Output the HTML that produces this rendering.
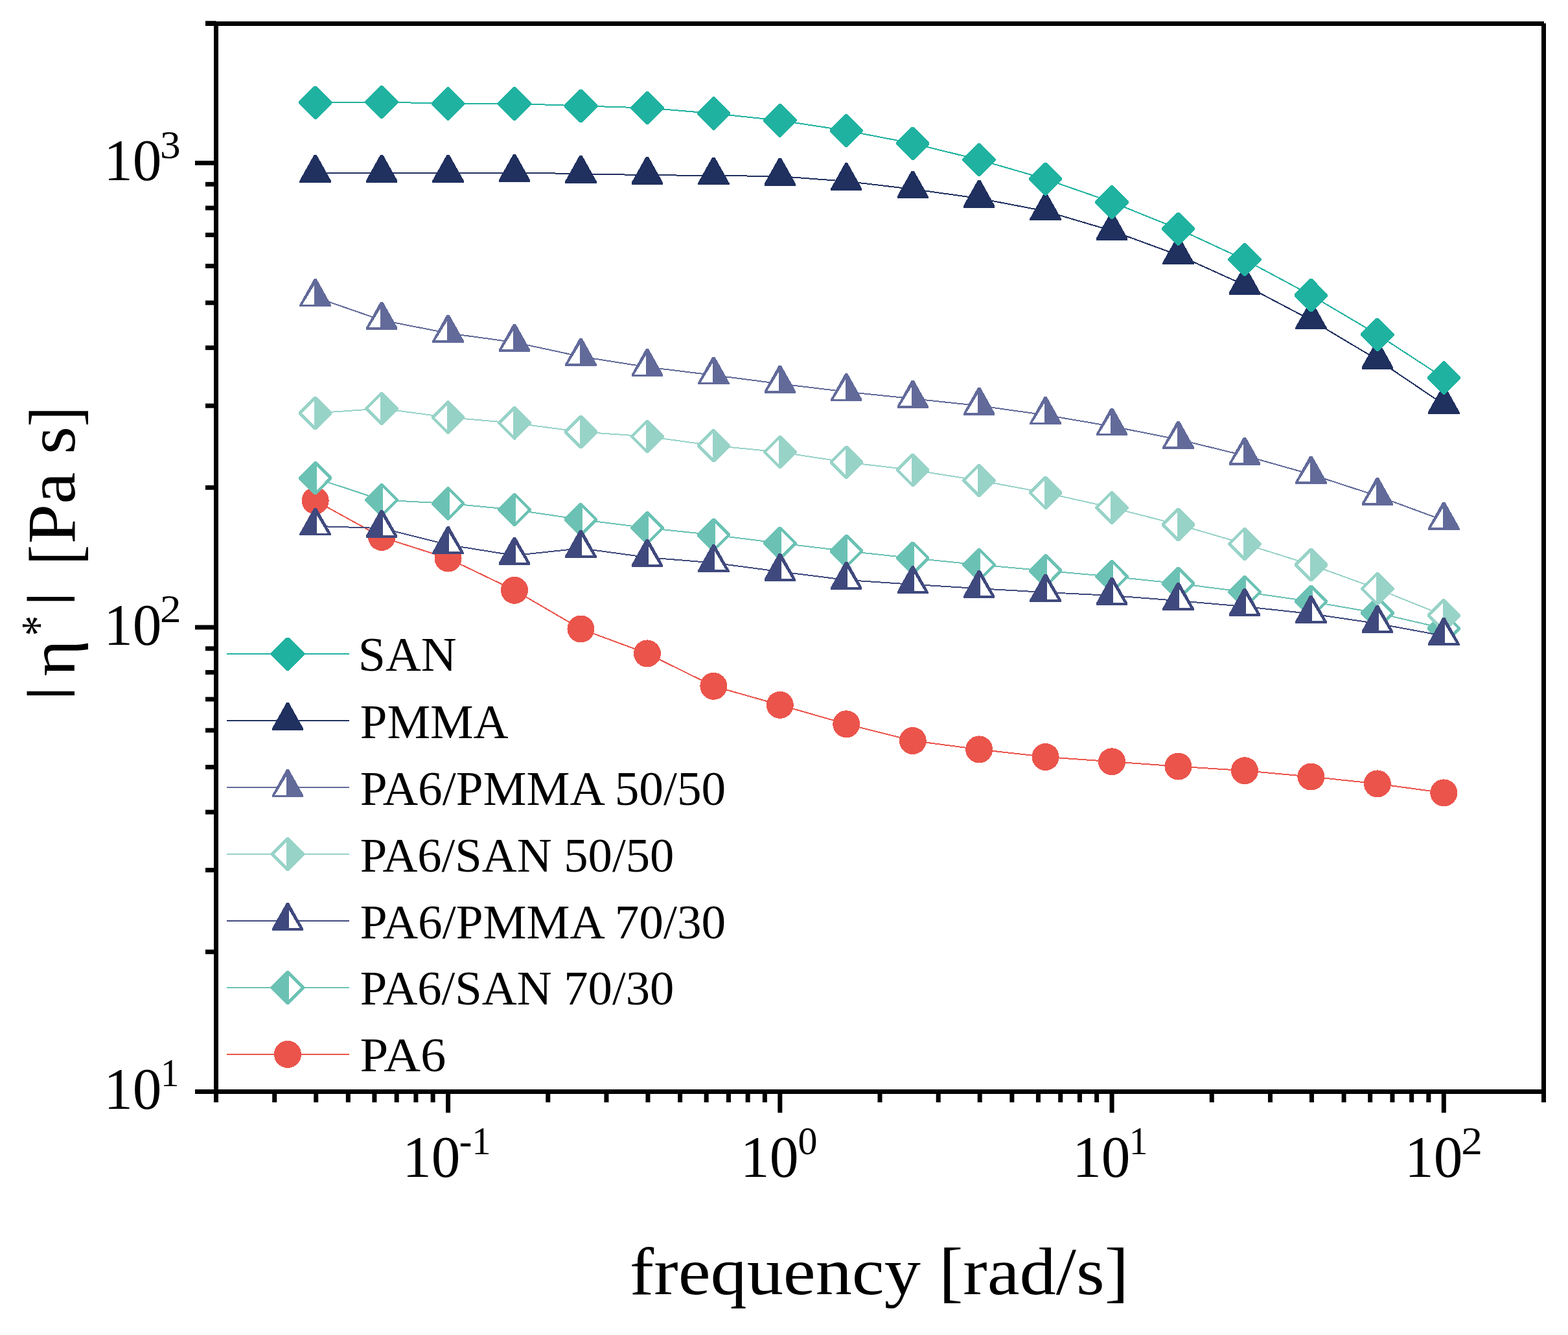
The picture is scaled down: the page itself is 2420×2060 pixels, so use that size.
<!DOCTYPE html>
<html lang="en"><head><meta charset="utf-8"><title>Complex viscosity vs. frequency</title>
<style>html,body{margin:0;padding:0;background:#ffffff}body{width:2420px;height:2060px}svg{display:block}text{font-family:'Liberation Serif', 'DejaVu Serif', serif;fill:#000}</style>
</head><body>
<svg width="2420" height="2060" viewBox="0 0 2420 2060">
<rect x="0" y="0" width="2420" height="2060" fill="#ffffff"/>
<g id="curves" shape-rendering="crispEdges">
<g>
<polyline fill="none" stroke="#EB544B" stroke-width="2" points="486.65,772.6 589.1,828.9 691.55,861.6 794,910.8 896.45,970.5 998.9,1008.4 1101.35,1058.8 1203.8,1087.8 1306.25,1117.3 1408.7,1143 1511.15,1156.4 1613.6,1168 1716.05,1175.3 1818.5,1182.6 1920.95,1189.2 2023.4,1198.5 2125.85,1209.4 2228.3,1223.4"/>
<circle cx="486.65" cy="772.6" r="21" fill="#EB544B"/>
<circle cx="589.1" cy="828.9" r="21" fill="#EB544B"/>
<circle cx="691.55" cy="861.6" r="21" fill="#EB544B"/>
<circle cx="794" cy="910.8" r="21" fill="#EB544B"/>
<circle cx="896.45" cy="970.5" r="21" fill="#EB544B"/>
<circle cx="998.9" cy="1008.4" r="21" fill="#EB544B"/>
<circle cx="1101.35" cy="1058.8" r="21" fill="#EB544B"/>
<circle cx="1203.8" cy="1087.8" r="21" fill="#EB544B"/>
<circle cx="1306.25" cy="1117.3" r="21" fill="#EB544B"/>
<circle cx="1408.7" cy="1143" r="21" fill="#EB544B"/>
<circle cx="1511.15" cy="1156.4" r="21" fill="#EB544B"/>
<circle cx="1613.6" cy="1168" r="21" fill="#EB544B"/>
<circle cx="1716.05" cy="1175.3" r="21" fill="#EB544B"/>
<circle cx="1818.5" cy="1182.6" r="21" fill="#EB544B"/>
<circle cx="1920.95" cy="1189.2" r="21" fill="#EB544B"/>
<circle cx="2023.4" cy="1198.5" r="21" fill="#EB544B"/>
<circle cx="2125.85" cy="1209.4" r="21" fill="#EB544B"/>
<circle cx="2228.3" cy="1223.4" r="21" fill="#EB544B"/>
</g>
<g>
<polyline fill="none" stroke="#6BC2B4" stroke-width="2" points="486.65,737.7 589.1,771.6 691.55,776.8 794,786.6 896.45,801.7 998.9,814.7 1101.35,825.4 1203.8,838.2 1306.25,850.3 1408.7,861.3 1511.15,871.5 1613.6,880.7 1716.05,889.7 1818.5,900.4 1920.95,913.5 2023.4,928.2 2125.85,946 2228.3,969.7"/>
<polygon points="488.15,712 512.35,736.2 512.35,739.2 488.15,763.4 485.15,763.4 460.95,739.2 460.95,736.2 485.15,712" fill="#6BC2B4"/><polygon points="488.85,719.1 488.85,756.3 507.25,737.7" fill="#fff"/>
<polygon points="590.6,745.9 614.8,770.1 614.8,773.1 590.6,797.3 587.6,797.3 563.4,773.1 563.4,770.1 587.6,745.9" fill="#6BC2B4"/><polygon points="591.3,753 591.3,790.2 609.7,771.6" fill="#fff"/>
<polygon points="693.05,751.1 717.25,775.3 717.25,778.3 693.05,802.5 690.05,802.5 665.85,778.3 665.85,775.3 690.05,751.1" fill="#6BC2B4"/><polygon points="693.75,758.2 693.75,795.4 712.15,776.8" fill="#fff"/>
<polygon points="795.5,760.9 819.7,785.1 819.7,788.1 795.5,812.3 792.5,812.3 768.3,788.1 768.3,785.1 792.5,760.9" fill="#6BC2B4"/><polygon points="796.2,768 796.2,805.2 814.6,786.6" fill="#fff"/>
<polygon points="897.95,776 922.15,800.2 922.15,803.2 897.95,827.4 894.95,827.4 870.75,803.2 870.75,800.2 894.95,776" fill="#6BC2B4"/><polygon points="898.65,783.1 898.65,820.3 917.05,801.7" fill="#fff"/>
<polygon points="1000.4,789 1024.6,813.2 1024.6,816.2 1000.4,840.4 997.4,840.4 973.2,816.2 973.2,813.2 997.4,789" fill="#6BC2B4"/><polygon points="1001.1,796.1 1001.1,833.3 1019.5,814.7" fill="#fff"/>
<polygon points="1102.85,799.7 1127.05,823.9 1127.05,826.9 1102.85,851.1 1099.85,851.1 1075.65,826.9 1075.65,823.9 1099.85,799.7" fill="#6BC2B4"/><polygon points="1103.55,806.8 1103.55,844 1121.95,825.4" fill="#fff"/>
<polygon points="1205.3,812.5 1229.5,836.7 1229.5,839.7 1205.3,863.9 1202.3,863.9 1178.1,839.7 1178.1,836.7 1202.3,812.5" fill="#6BC2B4"/><polygon points="1206,819.6 1206,856.8 1224.4,838.2" fill="#fff"/>
<polygon points="1307.75,824.6 1331.95,848.8 1331.95,851.8 1307.75,876 1304.75,876 1280.55,851.8 1280.55,848.8 1304.75,824.6" fill="#6BC2B4"/><polygon points="1308.45,831.7 1308.45,868.9 1326.85,850.3" fill="#fff"/>
<polygon points="1410.2,835.6 1434.4,859.8 1434.4,862.8 1410.2,887 1407.2,887 1383,862.8 1383,859.8 1407.2,835.6" fill="#6BC2B4"/><polygon points="1410.9,842.7 1410.9,879.9 1429.3,861.3" fill="#fff"/>
<polygon points="1512.65,845.8 1536.85,870 1536.85,873 1512.65,897.2 1509.65,897.2 1485.45,873 1485.45,870 1509.65,845.8" fill="#6BC2B4"/><polygon points="1513.35,852.9 1513.35,890.1 1531.75,871.5" fill="#fff"/>
<polygon points="1615.1,855 1639.3,879.2 1639.3,882.2 1615.1,906.4 1612.1,906.4 1587.9,882.2 1587.9,879.2 1612.1,855" fill="#6BC2B4"/><polygon points="1615.8,862.1 1615.8,899.3 1634.2,880.7" fill="#fff"/>
<polygon points="1717.55,864 1741.75,888.2 1741.75,891.2 1717.55,915.4 1714.55,915.4 1690.35,891.2 1690.35,888.2 1714.55,864" fill="#6BC2B4"/><polygon points="1718.25,871.1 1718.25,908.3 1736.65,889.7" fill="#fff"/>
<polygon points="1820,874.7 1844.2,898.9 1844.2,901.9 1820,926.1 1817,926.1 1792.8,901.9 1792.8,898.9 1817,874.7" fill="#6BC2B4"/><polygon points="1820.7,881.8 1820.7,919 1839.1,900.4" fill="#fff"/>
<polygon points="1922.45,887.8 1946.65,912 1946.65,915 1922.45,939.2 1919.45,939.2 1895.25,915 1895.25,912 1919.45,887.8" fill="#6BC2B4"/><polygon points="1923.15,894.9 1923.15,932.1 1941.55,913.5" fill="#fff"/>
<polygon points="2024.9,902.5 2049.1,926.7 2049.1,929.7 2024.9,953.9 2021.9,953.9 1997.7,929.7 1997.7,926.7 2021.9,902.5" fill="#6BC2B4"/><polygon points="2025.6,909.6 2025.6,946.8 2044,928.2" fill="#fff"/>
<polygon points="2127.35,920.3 2151.55,944.5 2151.55,947.5 2127.35,971.7 2124.35,971.7 2100.15,947.5 2100.15,944.5 2124.35,920.3" fill="#6BC2B4"/><polygon points="2128.05,927.4 2128.05,964.6 2146.45,946" fill="#fff"/>
<polygon points="2229.8,944 2254,968.2 2254,971.2 2229.8,995.4 2226.8,995.4 2202.6,971.2 2202.6,968.2 2226.8,944" fill="#6BC2B4"/><polygon points="2230.5,951.1 2230.5,988.3 2248.9,969.7" fill="#fff"/>
</g>
<g>
<polyline fill="none" stroke="#98D3C8" stroke-width="2" points="486.65,637.5 589.1,630.4 691.55,644.1 794,652.8 896.45,666.4 998.9,673.5 1101.35,687.6 1203.8,697.6 1306.25,713.3 1408.7,725.2 1511.15,741.4 1613.6,760.4 1716.05,783.3 1818.5,809.5 1920.95,839.3 2023.4,871.5 2125.85,908.5 2228.3,949.7"/>
<polygon points="488.15,611.8 512.35,636 512.35,639 488.15,663.2 485.15,663.2 460.95,639 460.95,636 485.15,611.8" fill="#98D3C8"/><polygon points="484.95,618.6 484.95,656.4 466.05,637.5" fill="#fff"/>
<polygon points="590.6,604.7 614.8,628.9 614.8,631.9 590.6,656.1 587.6,656.1 563.4,631.9 563.4,628.9 587.6,604.7" fill="#98D3C8"/><polygon points="587.4,611.5 587.4,649.3 568.5,630.4" fill="#fff"/>
<polygon points="693.05,618.4 717.25,642.6 717.25,645.6 693.05,669.8 690.05,669.8 665.85,645.6 665.85,642.6 690.05,618.4" fill="#98D3C8"/><polygon points="689.85,625.2 689.85,663 670.95,644.1" fill="#fff"/>
<polygon points="795.5,627.1 819.7,651.3 819.7,654.3 795.5,678.5 792.5,678.5 768.3,654.3 768.3,651.3 792.5,627.1" fill="#98D3C8"/><polygon points="792.3,633.9 792.3,671.7 773.4,652.8" fill="#fff"/>
<polygon points="897.95,640.7 922.15,664.9 922.15,667.9 897.95,692.1 894.95,692.1 870.75,667.9 870.75,664.9 894.95,640.7" fill="#98D3C8"/><polygon points="894.75,647.5 894.75,685.3 875.85,666.4" fill="#fff"/>
<polygon points="1000.4,647.8 1024.6,672 1024.6,675 1000.4,699.2 997.4,699.2 973.2,675 973.2,672 997.4,647.8" fill="#98D3C8"/><polygon points="997.2,654.6 997.2,692.4 978.3,673.5" fill="#fff"/>
<polygon points="1102.85,661.9 1127.05,686.1 1127.05,689.1 1102.85,713.3 1099.85,713.3 1075.65,689.1 1075.65,686.1 1099.85,661.9" fill="#98D3C8"/><polygon points="1099.65,668.7 1099.65,706.5 1080.75,687.6" fill="#fff"/>
<polygon points="1205.3,671.9 1229.5,696.1 1229.5,699.1 1205.3,723.3 1202.3,723.3 1178.1,699.1 1178.1,696.1 1202.3,671.9" fill="#98D3C8"/><polygon points="1202.1,678.7 1202.1,716.5 1183.2,697.6" fill="#fff"/>
<polygon points="1307.75,687.6 1331.95,711.8 1331.95,714.8 1307.75,739 1304.75,739 1280.55,714.8 1280.55,711.8 1304.75,687.6" fill="#98D3C8"/><polygon points="1304.55,694.4 1304.55,732.2 1285.65,713.3" fill="#fff"/>
<polygon points="1410.2,699.5 1434.4,723.7 1434.4,726.7 1410.2,750.9 1407.2,750.9 1383,726.7 1383,723.7 1407.2,699.5" fill="#98D3C8"/><polygon points="1407,706.3 1407,744.1 1388.1,725.2" fill="#fff"/>
<polygon points="1512.65,715.7 1536.85,739.9 1536.85,742.9 1512.65,767.1 1509.65,767.1 1485.45,742.9 1485.45,739.9 1509.65,715.7" fill="#98D3C8"/><polygon points="1509.45,722.5 1509.45,760.3 1490.55,741.4" fill="#fff"/>
<polygon points="1615.1,734.7 1639.3,758.9 1639.3,761.9 1615.1,786.1 1612.1,786.1 1587.9,761.9 1587.9,758.9 1612.1,734.7" fill="#98D3C8"/><polygon points="1611.9,741.5 1611.9,779.3 1593,760.4" fill="#fff"/>
<polygon points="1717.55,757.6 1741.75,781.8 1741.75,784.8 1717.55,809 1714.55,809 1690.35,784.8 1690.35,781.8 1714.55,757.6" fill="#98D3C8"/><polygon points="1714.35,764.4 1714.35,802.2 1695.45,783.3" fill="#fff"/>
<polygon points="1820,783.8 1844.2,808 1844.2,811 1820,835.2 1817,835.2 1792.8,811 1792.8,808 1817,783.8" fill="#98D3C8"/><polygon points="1816.8,790.6 1816.8,828.4 1797.9,809.5" fill="#fff"/>
<polygon points="1922.45,813.6 1946.65,837.8 1946.65,840.8 1922.45,865 1919.45,865 1895.25,840.8 1895.25,837.8 1919.45,813.6" fill="#98D3C8"/><polygon points="1919.25,820.4 1919.25,858.2 1900.35,839.3" fill="#fff"/>
<polygon points="2024.9,845.8 2049.1,870 2049.1,873 2024.9,897.2 2021.9,897.2 1997.7,873 1997.7,870 2021.9,845.8" fill="#98D3C8"/><polygon points="2021.7,852.6 2021.7,890.4 2002.8,871.5" fill="#fff"/>
<polygon points="2127.35,882.8 2151.55,907 2151.55,910 2127.35,934.2 2124.35,934.2 2100.15,910 2100.15,907 2124.35,882.8" fill="#98D3C8"/><polygon points="2124.15,889.6 2124.15,927.4 2105.25,908.5" fill="#fff"/>
<polygon points="2229.8,924 2254,948.2 2254,951.2 2229.8,975.4 2226.8,975.4 2202.6,951.2 2202.6,948.2 2226.8,924" fill="#98D3C8"/><polygon points="2226.6,930.8 2226.6,968.6 2207.7,949.7" fill="#fff"/>
</g>
<g>
<polyline fill="none" stroke="#3F497D" stroke-width="2" points="486.65,811.9 589.1,815.1 691.55,840.7 794,857.1 896.45,846.1 998.9,860.1 1101.35,868.5 1203.8,882.1 1306.25,895 1408.7,901.8 1511.15,908.2 1613.6,914 1716.05,919 1818.5,927 1920.95,936 2023.4,947.1 2125.85,962.2 2228.3,981.2"/>
<polygon points="484.75,783.5 488.55,783.5 510.85,823.4 510.85,826.4 462.45,826.4 462.45,823.4" fill="#3F497D"/><polygon points="488.55,794.3 488.55,822.5 505.25,822.5" fill="#fff"/>
<polygon points="587.2,786.7 591,786.7 613.3,826.6 613.3,829.6 564.9,829.6 564.9,826.6" fill="#3F497D"/><polygon points="591,797.5 591,825.7 607.7,825.7" fill="#fff"/>
<polygon points="689.65,812.3 693.45,812.3 715.75,852.2 715.75,855.2 667.35,855.2 667.35,852.2" fill="#3F497D"/><polygon points="693.45,823.1 693.45,851.3 710.15,851.3" fill="#fff"/>
<polygon points="792.1,828.7 795.9,828.7 818.2,868.6 818.2,871.6 769.8,871.6 769.8,868.6" fill="#3F497D"/><polygon points="795.9,839.5 795.9,867.7 812.6,867.7" fill="#fff"/>
<polygon points="894.55,817.7 898.35,817.7 920.65,857.6 920.65,860.6 872.25,860.6 872.25,857.6" fill="#3F497D"/><polygon points="898.35,828.5 898.35,856.7 915.05,856.7" fill="#fff"/>
<polygon points="997,831.7 1000.8,831.7 1023.1,871.6 1023.1,874.6 974.7,874.6 974.7,871.6" fill="#3F497D"/><polygon points="1000.8,842.5 1000.8,870.7 1017.5,870.7" fill="#fff"/>
<polygon points="1099.45,840.1 1103.25,840.1 1125.55,880 1125.55,883 1077.15,883 1077.15,880" fill="#3F497D"/><polygon points="1103.25,850.9 1103.25,879.1 1119.95,879.1" fill="#fff"/>
<polygon points="1201.9,853.7 1205.7,853.7 1228,893.6 1228,896.6 1179.6,896.6 1179.6,893.6" fill="#3F497D"/><polygon points="1205.7,864.5 1205.7,892.7 1222.4,892.7" fill="#fff"/>
<polygon points="1304.35,866.6 1308.15,866.6 1330.45,906.5 1330.45,909.5 1282.05,909.5 1282.05,906.5" fill="#3F497D"/><polygon points="1308.15,877.4 1308.15,905.6 1324.85,905.6" fill="#fff"/>
<polygon points="1406.8,873.4 1410.6,873.4 1432.9,913.3 1432.9,916.3 1384.5,916.3 1384.5,913.3" fill="#3F497D"/><polygon points="1410.6,884.2 1410.6,912.4 1427.3,912.4" fill="#fff"/>
<polygon points="1509.25,879.8 1513.05,879.8 1535.35,919.7 1535.35,922.7 1486.95,922.7 1486.95,919.7" fill="#3F497D"/><polygon points="1513.05,890.6 1513.05,918.8 1529.75,918.8" fill="#fff"/>
<polygon points="1611.7,885.6 1615.5,885.6 1637.8,925.5 1637.8,928.5 1589.4,928.5 1589.4,925.5" fill="#3F497D"/><polygon points="1615.5,896.4 1615.5,924.6 1632.2,924.6" fill="#fff"/>
<polygon points="1714.15,890.6 1717.95,890.6 1740.25,930.5 1740.25,933.5 1691.85,933.5 1691.85,930.5" fill="#3F497D"/><polygon points="1717.95,901.4 1717.95,929.6 1734.65,929.6" fill="#fff"/>
<polygon points="1816.6,898.6 1820.4,898.6 1842.7,938.5 1842.7,941.5 1794.3,941.5 1794.3,938.5" fill="#3F497D"/><polygon points="1820.4,909.4 1820.4,937.6 1837.1,937.6" fill="#fff"/>
<polygon points="1919.05,907.6 1922.85,907.6 1945.15,947.5 1945.15,950.5 1896.75,950.5 1896.75,947.5" fill="#3F497D"/><polygon points="1922.85,918.4 1922.85,946.6 1939.55,946.6" fill="#fff"/>
<polygon points="2021.5,918.7 2025.3,918.7 2047.6,958.6 2047.6,961.6 1999.2,961.6 1999.2,958.6" fill="#3F497D"/><polygon points="2025.3,929.5 2025.3,957.7 2042,957.7" fill="#fff"/>
<polygon points="2123.95,933.8 2127.75,933.8 2150.05,973.7 2150.05,976.7 2101.65,976.7 2101.65,973.7" fill="#3F497D"/><polygon points="2127.75,944.6 2127.75,972.8 2144.45,972.8" fill="#fff"/>
<polygon points="2226.4,952.8 2230.2,952.8 2252.5,992.7 2252.5,995.7 2204.1,995.7 2204.1,992.7" fill="#3F497D"/><polygon points="2230.2,963.6 2230.2,991.8 2246.9,991.8" fill="#fff"/>
</g>
<g>
<polyline fill="none" stroke="#626A9A" stroke-width="2" points="486.65,458.6 589.1,494.1 691.55,514.1 794,528.2 896.45,550.2 998.9,566.4 1101.35,578.9 1203.8,592.2 1306.25,604.6 1408.7,615.2 1511.15,626.1 1613.6,640.4 1716.05,657.9 1818.5,678.1 1920.95,703 2023.4,732 2125.85,765.3 2228.3,803.1"/>
<polygon points="484.75,430.2 488.55,430.2 510.85,470.1 510.85,473.1 462.45,473.1 462.45,470.1" fill="#626A9A"/><polygon points="484.95,440.2 484.95,469.7 466.95,469.7" fill="#fff"/>
<polygon points="587.2,465.7 591,465.7 613.3,505.6 613.3,508.6 564.9,508.6 564.9,505.6" fill="#626A9A"/><polygon points="587.4,475.7 587.4,505.2 569.4,505.2" fill="#fff"/>
<polygon points="689.65,485.7 693.45,485.7 715.75,525.6 715.75,528.6 667.35,528.6 667.35,525.6" fill="#626A9A"/><polygon points="689.85,495.7 689.85,525.2 671.85,525.2" fill="#fff"/>
<polygon points="792.1,499.8 795.9,499.8 818.2,539.7 818.2,542.7 769.8,542.7 769.8,539.7" fill="#626A9A"/><polygon points="792.3,509.8 792.3,539.3 774.3,539.3" fill="#fff"/>
<polygon points="894.55,521.8 898.35,521.8 920.65,561.7 920.65,564.7 872.25,564.7 872.25,561.7" fill="#626A9A"/><polygon points="894.75,531.8 894.75,561.3 876.75,561.3" fill="#fff"/>
<polygon points="997,538 1000.8,538 1023.1,577.9 1023.1,580.9 974.7,580.9 974.7,577.9" fill="#626A9A"/><polygon points="997.2,548 997.2,577.5 979.2,577.5" fill="#fff"/>
<polygon points="1099.45,550.5 1103.25,550.5 1125.55,590.4 1125.55,593.4 1077.15,593.4 1077.15,590.4" fill="#626A9A"/><polygon points="1099.65,560.5 1099.65,590 1081.65,590" fill="#fff"/>
<polygon points="1201.9,563.8 1205.7,563.8 1228,603.7 1228,606.7 1179.6,606.7 1179.6,603.7" fill="#626A9A"/><polygon points="1202.1,573.8 1202.1,603.3 1184.1,603.3" fill="#fff"/>
<polygon points="1304.35,576.2 1308.15,576.2 1330.45,616.1 1330.45,619.1 1282.05,619.1 1282.05,616.1" fill="#626A9A"/><polygon points="1304.55,586.2 1304.55,615.7 1286.55,615.7" fill="#fff"/>
<polygon points="1406.8,586.8 1410.6,586.8 1432.9,626.7 1432.9,629.7 1384.5,629.7 1384.5,626.7" fill="#626A9A"/><polygon points="1407,596.8 1407,626.3 1389,626.3" fill="#fff"/>
<polygon points="1509.25,597.7 1513.05,597.7 1535.35,637.6 1535.35,640.6 1486.95,640.6 1486.95,637.6" fill="#626A9A"/><polygon points="1509.45,607.7 1509.45,637.2 1491.45,637.2" fill="#fff"/>
<polygon points="1611.7,612 1615.5,612 1637.8,651.9 1637.8,654.9 1589.4,654.9 1589.4,651.9" fill="#626A9A"/><polygon points="1611.9,622 1611.9,651.5 1593.9,651.5" fill="#fff"/>
<polygon points="1714.15,629.5 1717.95,629.5 1740.25,669.4 1740.25,672.4 1691.85,672.4 1691.85,669.4" fill="#626A9A"/><polygon points="1714.35,639.5 1714.35,669 1696.35,669" fill="#fff"/>
<polygon points="1816.6,649.7 1820.4,649.7 1842.7,689.6 1842.7,692.6 1794.3,692.6 1794.3,689.6" fill="#626A9A"/><polygon points="1816.8,659.7 1816.8,689.2 1798.8,689.2" fill="#fff"/>
<polygon points="1919.05,674.6 1922.85,674.6 1945.15,714.5 1945.15,717.5 1896.75,717.5 1896.75,714.5" fill="#626A9A"/><polygon points="1919.25,684.6 1919.25,714.1 1901.25,714.1" fill="#fff"/>
<polygon points="2021.5,703.6 2025.3,703.6 2047.6,743.5 2047.6,746.5 1999.2,746.5 1999.2,743.5" fill="#626A9A"/><polygon points="2021.7,713.6 2021.7,743.1 2003.7,743.1" fill="#fff"/>
<polygon points="2123.95,736.9 2127.75,736.9 2150.05,776.8 2150.05,779.8 2101.65,779.8 2101.65,776.8" fill="#626A9A"/><polygon points="2124.15,746.9 2124.15,776.4 2106.15,776.4" fill="#fff"/>
<polygon points="2226.4,774.7 2230.2,774.7 2252.5,814.6 2252.5,817.6 2204.1,817.6 2204.1,814.6" fill="#626A9A"/><polygon points="2226.6,784.7 2226.6,814.2 2208.6,814.2" fill="#fff"/>
</g>
<g>
<polyline fill="none" stroke="#20305F" stroke-width="2" points="486.65,267.2 589.1,267.1 691.55,267.2 794,266.4 896.45,268.2 998.9,270.2 1101.35,270.9 1203.8,272.1 1306.25,279.8 1408.7,291.9 1511.15,306.1 1613.6,325.8 1716.05,356.1 1818.5,393.7 1920.95,440 2023.4,493.9 2125.85,555 2228.3,624.2"/>
<polygon points="484.75,238.8 488.55,238.8 510.85,278.7 510.85,281.7 462.45,281.7 462.45,278.7" fill="#20305F"/>
<polygon points="587.2,238.7 591,238.7 613.3,278.6 613.3,281.6 564.9,281.6 564.9,278.6" fill="#20305F"/>
<polygon points="689.65,238.8 693.45,238.8 715.75,278.7 715.75,281.7 667.35,281.7 667.35,278.7" fill="#20305F"/>
<polygon points="792.1,238 795.9,238 818.2,277.9 818.2,280.9 769.8,280.9 769.8,277.9" fill="#20305F"/>
<polygon points="894.55,239.8 898.35,239.8 920.65,279.7 920.65,282.7 872.25,282.7 872.25,279.7" fill="#20305F"/>
<polygon points="997,241.8 1000.8,241.8 1023.1,281.7 1023.1,284.7 974.7,284.7 974.7,281.7" fill="#20305F"/>
<polygon points="1099.45,242.5 1103.25,242.5 1125.55,282.4 1125.55,285.4 1077.15,285.4 1077.15,282.4" fill="#20305F"/>
<polygon points="1201.9,243.7 1205.7,243.7 1228,283.6 1228,286.6 1179.6,286.6 1179.6,283.6" fill="#20305F"/>
<polygon points="1304.35,251.4 1308.15,251.4 1330.45,291.3 1330.45,294.3 1282.05,294.3 1282.05,291.3" fill="#20305F"/>
<polygon points="1406.8,263.5 1410.6,263.5 1432.9,303.4 1432.9,306.4 1384.5,306.4 1384.5,303.4" fill="#20305F"/>
<polygon points="1509.25,277.7 1513.05,277.7 1535.35,317.6 1535.35,320.6 1486.95,320.6 1486.95,317.6" fill="#20305F"/>
<polygon points="1611.7,297.4 1615.5,297.4 1637.8,337.3 1637.8,340.3 1589.4,340.3 1589.4,337.3" fill="#20305F"/>
<polygon points="1714.15,327.7 1717.95,327.7 1740.25,367.6 1740.25,370.6 1691.85,370.6 1691.85,367.6" fill="#20305F"/>
<polygon points="1816.6,365.3 1820.4,365.3 1842.7,405.2 1842.7,408.2 1794.3,408.2 1794.3,405.2" fill="#20305F"/>
<polygon points="1919.05,411.6 1922.85,411.6 1945.15,451.5 1945.15,454.5 1896.75,454.5 1896.75,451.5" fill="#20305F"/>
<polygon points="2021.5,465.5 2025.3,465.5 2047.6,505.4 2047.6,508.4 1999.2,508.4 1999.2,505.4" fill="#20305F"/>
<polygon points="2123.95,526.6 2127.75,526.6 2150.05,566.5 2150.05,569.5 2101.65,569.5 2101.65,566.5" fill="#20305F"/>
<polygon points="2226.4,595.8 2230.2,595.8 2252.5,635.7 2252.5,638.7 2204.1,638.7 2204.1,635.7" fill="#20305F"/>
</g>
<g>
<polyline fill="none" stroke="#20B2A0" stroke-width="2" points="486.65,158.35 589.1,157.5 691.55,159.8 794,159.9 896.45,163.4 998.9,166.5 1101.35,175.1 1203.8,185.9 1306.25,201.5 1408.7,221.3 1511.15,246.5 1613.6,276.2 1716.05,311.9 1818.5,353.2 1920.95,400.7 2023.4,455.6 2125.85,516.2 2228.3,583"/>
<polygon points="488.15,132.65 512.35,156.85 512.35,159.85 488.15,184.05 485.15,184.05 460.95,159.85 460.95,156.85 485.15,132.65" fill="#20B2A0"/>
<polygon points="590.6,131.8 614.8,156 614.8,159 590.6,183.2 587.6,183.2 563.4,159 563.4,156 587.6,131.8" fill="#20B2A0"/>
<polygon points="693.05,134.1 717.25,158.3 717.25,161.3 693.05,185.5 690.05,185.5 665.85,161.3 665.85,158.3 690.05,134.1" fill="#20B2A0"/>
<polygon points="795.5,134.2 819.7,158.4 819.7,161.4 795.5,185.6 792.5,185.6 768.3,161.4 768.3,158.4 792.5,134.2" fill="#20B2A0"/>
<polygon points="897.95,137.7 922.15,161.9 922.15,164.9 897.95,189.1 894.95,189.1 870.75,164.9 870.75,161.9 894.95,137.7" fill="#20B2A0"/>
<polygon points="1000.4,140.8 1024.6,165 1024.6,168 1000.4,192.2 997.4,192.2 973.2,168 973.2,165 997.4,140.8" fill="#20B2A0"/>
<polygon points="1102.85,149.4 1127.05,173.6 1127.05,176.6 1102.85,200.8 1099.85,200.8 1075.65,176.6 1075.65,173.6 1099.85,149.4" fill="#20B2A0"/>
<polygon points="1205.3,160.2 1229.5,184.4 1229.5,187.4 1205.3,211.6 1202.3,211.6 1178.1,187.4 1178.1,184.4 1202.3,160.2" fill="#20B2A0"/>
<polygon points="1307.75,175.8 1331.95,200 1331.95,203 1307.75,227.2 1304.75,227.2 1280.55,203 1280.55,200 1304.75,175.8" fill="#20B2A0"/>
<polygon points="1410.2,195.6 1434.4,219.8 1434.4,222.8 1410.2,247 1407.2,247 1383,222.8 1383,219.8 1407.2,195.6" fill="#20B2A0"/>
<polygon points="1512.65,220.8 1536.85,245 1536.85,248 1512.65,272.2 1509.65,272.2 1485.45,248 1485.45,245 1509.65,220.8" fill="#20B2A0"/>
<polygon points="1615.1,250.5 1639.3,274.7 1639.3,277.7 1615.1,301.9 1612.1,301.9 1587.9,277.7 1587.9,274.7 1612.1,250.5" fill="#20B2A0"/>
<polygon points="1717.55,286.2 1741.75,310.4 1741.75,313.4 1717.55,337.6 1714.55,337.6 1690.35,313.4 1690.35,310.4 1714.55,286.2" fill="#20B2A0"/>
<polygon points="1820,327.5 1844.2,351.7 1844.2,354.7 1820,378.9 1817,378.9 1792.8,354.7 1792.8,351.7 1817,327.5" fill="#20B2A0"/>
<polygon points="1922.45,375 1946.65,399.2 1946.65,402.2 1922.45,426.4 1919.45,426.4 1895.25,402.2 1895.25,399.2 1919.45,375" fill="#20B2A0"/>
<polygon points="2024.9,429.9 2049.1,454.1 2049.1,457.1 2024.9,481.3 2021.9,481.3 1997.7,457.1 1997.7,454.1 2021.9,429.9" fill="#20B2A0"/>
<polygon points="2127.35,490.5 2151.55,514.7 2151.55,517.7 2127.35,541.9 2124.35,541.9 2100.15,517.7 2100.15,514.7 2124.35,490.5" fill="#20B2A0"/>
<polygon points="2229.8,557.3 2254,581.5 2254,584.5 2229.8,608.7 2226.8,608.7 2202.6,584.5 2202.6,581.5 2226.8,557.3" fill="#20B2A0"/>
</g>
</g>
<g id="legend" shape-rendering="crispEdges">
<line x1="350" y1="1008.9" x2="539" y2="1008.9" stroke="#20B2A0" stroke-width="2"/>
<polygon points="445.5,983.5 469.7,1007.7 469.7,1010.7 445.5,1034.9 442.5,1034.9 418.3,1010.7 418.3,1007.7 442.5,983.5" fill="#20B2A0"/>
<text shape-rendering="auto"><tspan x="552.88" y="1035" font-size="73.5" textLength="151.77" lengthAdjust="spacingAndGlyphs">SAN</tspan></text>
<line x1="350" y1="1111.85" x2="539" y2="1111.85" stroke="#20305F" stroke-width="2"/>
<polygon points="442.1,1084.35 445.9,1084.35 468.2,1124.25 468.2,1127.25 419.8,1127.25 419.8,1124.25" fill="#20305F"/>
<text shape-rendering="auto"><tspan x="555.75" y="1139" font-size="73.5" textLength="228.85" lengthAdjust="spacingAndGlyphs">PMMA</tspan></text>
<line x1="350" y1="1214.8" x2="539" y2="1214.8" stroke="#626A9A" stroke-width="2"/>
<polygon points="442.1,1187.3 445.9,1187.3 468.2,1227.2 468.2,1230.2 419.8,1230.2 419.8,1227.2" fill="#626A9A"/><polygon points="442.3,1197.3 442.3,1226.8 424.3,1226.8" fill="#fff"/>
<text shape-rendering="auto"><tspan x="555.74" y="1242" font-size="73.5" textLength="564.5" lengthAdjust="spacingAndGlyphs">PA6/PMMA 50/50</tspan></text>
<line x1="350" y1="1317.75" x2="539" y2="1317.75" stroke="#98D3C8" stroke-width="2"/>
<polygon points="445.5,1292.35 469.7,1316.55 469.7,1319.55 445.5,1343.75 442.5,1343.75 418.3,1319.55 418.3,1316.55 442.5,1292.35" fill="#98D3C8"/><polygon points="442.3,1299.15 442.3,1336.95 423.4,1318.05" fill="#fff"/>
<text shape-rendering="auto"><tspan x="555.76" y="1345" font-size="73.5" textLength="484.56" lengthAdjust="spacingAndGlyphs">PA6/SAN 50/50</tspan></text>
<line x1="350" y1="1420.7" x2="539" y2="1420.7" stroke="#3F497D" stroke-width="2"/>
<polygon points="442.1,1393.2 445.9,1393.2 468.2,1433.1 468.2,1436.1 419.8,1436.1 419.8,1433.1" fill="#3F497D"/><polygon points="445.9,1404 445.9,1432.2 462.6,1432.2" fill="#fff"/>
<text shape-rendering="auto"><tspan x="555.74" y="1448" font-size="73.5" textLength="564.5" lengthAdjust="spacingAndGlyphs">PA6/PMMA 70/30</tspan></text>
<line x1="350" y1="1523.65" x2="539" y2="1523.65" stroke="#6BC2B4" stroke-width="2"/>
<polygon points="445.5,1498.25 469.7,1522.45 469.7,1525.45 445.5,1549.65 442.5,1549.65 418.3,1525.45 418.3,1522.45 442.5,1498.25" fill="#6BC2B4"/><polygon points="446.2,1505.35 446.2,1542.55 464.6,1523.95" fill="#fff"/>
<text shape-rendering="auto"><tspan x="555.76" y="1550" font-size="73.5" textLength="484.56" lengthAdjust="spacingAndGlyphs">PA6/SAN 70/30</tspan></text>
<line x1="350" y1="1626.6" x2="539" y2="1626.6" stroke="#EB544B" stroke-width="2"/>
<circle cx="444" cy="1626.9" r="21" fill="#EB544B"/>
<text shape-rendering="auto"><tspan x="555.64" y="1653" font-size="73.5" textLength="132.85" lengthAdjust="spacingAndGlyphs">PA6</tspan></text>
</g>
<g id="axes" fill="#000">
<rect x="330" y="33" width="7" height="1668"/>
<rect x="301" y="1681" width="2085" height="7"/>
<rect x="317" y="33" width="2066" height="7"/>
<rect x="2379" y="36" width="7" height="1665"/>
<rect x="317" y="1465.31" width="16.5" height="7"/>
<rect x="317" y="1339.14" width="16.5" height="7"/>
<rect x="317" y="1249.62" width="16.5" height="7"/>
<rect x="317" y="1180.19" width="16.5" height="7"/>
<rect x="317" y="1123.45" width="16.5" height="7"/>
<rect x="317" y="1075.49" width="16.5" height="7"/>
<rect x="317" y="1033.94" width="16.5" height="7"/>
<rect x="317" y="997.29" width="16.5" height="7"/>
<rect x="301" y="964.5" width="32.5" height="7"/>
<rect x="317" y="748.81" width="16.5" height="7"/>
<rect x="317" y="622.64" width="16.5" height="7"/>
<rect x="317" y="533.12" width="16.5" height="7"/>
<rect x="317" y="463.69" width="16.5" height="7"/>
<rect x="317" y="406.95" width="16.5" height="7"/>
<rect x="317" y="358.99" width="16.5" height="7"/>
<rect x="317" y="317.44" width="16.5" height="7"/>
<rect x="317" y="280.79" width="16.5" height="7"/>
<rect x="301" y="248" width="32.5" height="7"/>
<rect x="317" y="32.31" width="16.5" height="7"/>
<rect x="420.2" y="1684.5" width="7" height="16.5"/>
<rect x="484.2" y="1684.5" width="7" height="16.5"/>
<rect x="533.84" y="1684.5" width="7" height="16.5"/>
<rect x="574.41" y="1684.5" width="7" height="16.5"/>
<rect x="608.7" y="1684.5" width="7" height="16.5"/>
<rect x="638.41" y="1684.5" width="7" height="16.5"/>
<rect x="664.61" y="1684.5" width="7" height="16.5"/>
<rect x="688.05" y="1684.5" width="7" height="32.5"/>
<rect x="842.25" y="1684.5" width="7" height="16.5"/>
<rect x="932.45" y="1684.5" width="7" height="16.5"/>
<rect x="996.45" y="1684.5" width="7" height="16.5"/>
<rect x="1046.09" y="1684.5" width="7" height="16.5"/>
<rect x="1086.66" y="1684.5" width="7" height="16.5"/>
<rect x="1120.95" y="1684.5" width="7" height="16.5"/>
<rect x="1150.66" y="1684.5" width="7" height="16.5"/>
<rect x="1176.86" y="1684.5" width="7" height="16.5"/>
<rect x="1200.3" y="1684.5" width="7" height="32.5"/>
<rect x="1354.5" y="1684.5" width="7" height="16.5"/>
<rect x="1444.7" y="1684.5" width="7" height="16.5"/>
<rect x="1508.7" y="1684.5" width="7" height="16.5"/>
<rect x="1558.34" y="1684.5" width="7" height="16.5"/>
<rect x="1598.91" y="1684.5" width="7" height="16.5"/>
<rect x="1633.2" y="1684.5" width="7" height="16.5"/>
<rect x="1662.91" y="1684.5" width="7" height="16.5"/>
<rect x="1689.11" y="1684.5" width="7" height="16.5"/>
<rect x="1712.55" y="1684.5" width="7" height="32.5"/>
<rect x="1866.75" y="1684.5" width="7" height="16.5"/>
<rect x="1956.95" y="1684.5" width="7" height="16.5"/>
<rect x="2020.95" y="1684.5" width="7" height="16.5"/>
<rect x="2070.59" y="1684.5" width="7" height="16.5"/>
<rect x="2111.16" y="1684.5" width="7" height="16.5"/>
<rect x="2145.45" y="1684.5" width="7" height="16.5"/>
<rect x="2175.16" y="1684.5" width="7" height="16.5"/>
<rect x="2201.36" y="1684.5" width="7" height="16.5"/>
<rect x="2224.8" y="1684.5" width="7" height="32.5"/>
</g>
<g id="ticklabels">
<text><tspan x="160.18" y="278" font-size="90" textLength="89.37" lengthAdjust="spacingAndGlyphs">10</tspan><tspan x="246.99" y="244" font-size="60.8" textLength="31.64" lengthAdjust="spacingAndGlyphs">3</tspan></text>
<text><tspan x="160.18" y="995" font-size="90" textLength="89.37" lengthAdjust="spacingAndGlyphs">10</tspan><tspan x="247.06" y="960" font-size="60.8" textLength="32.63" lengthAdjust="spacingAndGlyphs">2</tspan></text>
<text><tspan x="160.18" y="1711" font-size="90" textLength="89.37" lengthAdjust="spacingAndGlyphs">10</tspan><tspan x="247.91" y="1676" font-size="60.8" textLength="28.51" lengthAdjust="spacingAndGlyphs">1</tspan></text>
<text><tspan x="621.19" y="1816" font-size="90" textLength="89.26" lengthAdjust="spacingAndGlyphs">10</tspan><tspan x="708.8" y="1781" font-size="60.8" textLength="48.96" lengthAdjust="spacingAndGlyphs">-1</tspan></text>
<text><tspan x="1142.85" y="1816" font-size="90" textLength="89.71" lengthAdjust="spacingAndGlyphs">10</tspan><tspan x="1231.55" y="1781" font-size="60.8" textLength="30" lengthAdjust="spacingAndGlyphs">0</tspan></text>
<text><tspan x="1655.19" y="1816" font-size="90" textLength="89.26" lengthAdjust="spacingAndGlyphs">10</tspan><tspan x="1742.86" y="1781" font-size="60.8" textLength="28.79" lengthAdjust="spacingAndGlyphs">1</tspan></text>
<text><tspan x="2167.98" y="1816" font-size="90" textLength="89.37" lengthAdjust="spacingAndGlyphs">10</tspan><tspan x="2255.15" y="1781" font-size="60.8" textLength="32.75" lengthAdjust="spacingAndGlyphs">2</tspan></text>
</g>
<g id="titles">
<text><tspan x="971.83" y="1997" font-size="104" textLength="770.22" lengthAdjust="spacingAndGlyphs">frequency [rad/s]</tspan></text>
<text transform="rotate(-90)"><tspan x="-1082.3" y="97.5" font-size="81.3" textLength="24.82" lengthAdjust="spacingAndGlyphs">|</tspan><tspan x="-1043.72" y="115" font-size="100" textLength="56.55" lengthAdjust="spacingAndGlyphs">η</tspan><tspan x="-981.35" y="84.8" font-size="76" textLength="31.5" lengthAdjust="spacingAndGlyphs">*</tspan><tspan x="-936.4" y="97.5" font-size="81.3" textLength="24.82" lengthAdjust="spacingAndGlyphs">|</tspan> <tspan x="-871.68" y="121.2" font-size="109.6" textLength="30.98" lengthAdjust="spacingAndGlyphs">[</tspan><tspan x="-839.22" y="115" font-size="105.5" textLength="181.28" lengthAdjust="spacingAndGlyphs">Pa s</tspan><tspan x="-658.15" y="121.2" font-size="109.6" textLength="30.93" lengthAdjust="spacingAndGlyphs">]</tspan></text>
</g>
</svg>
</body></html>
